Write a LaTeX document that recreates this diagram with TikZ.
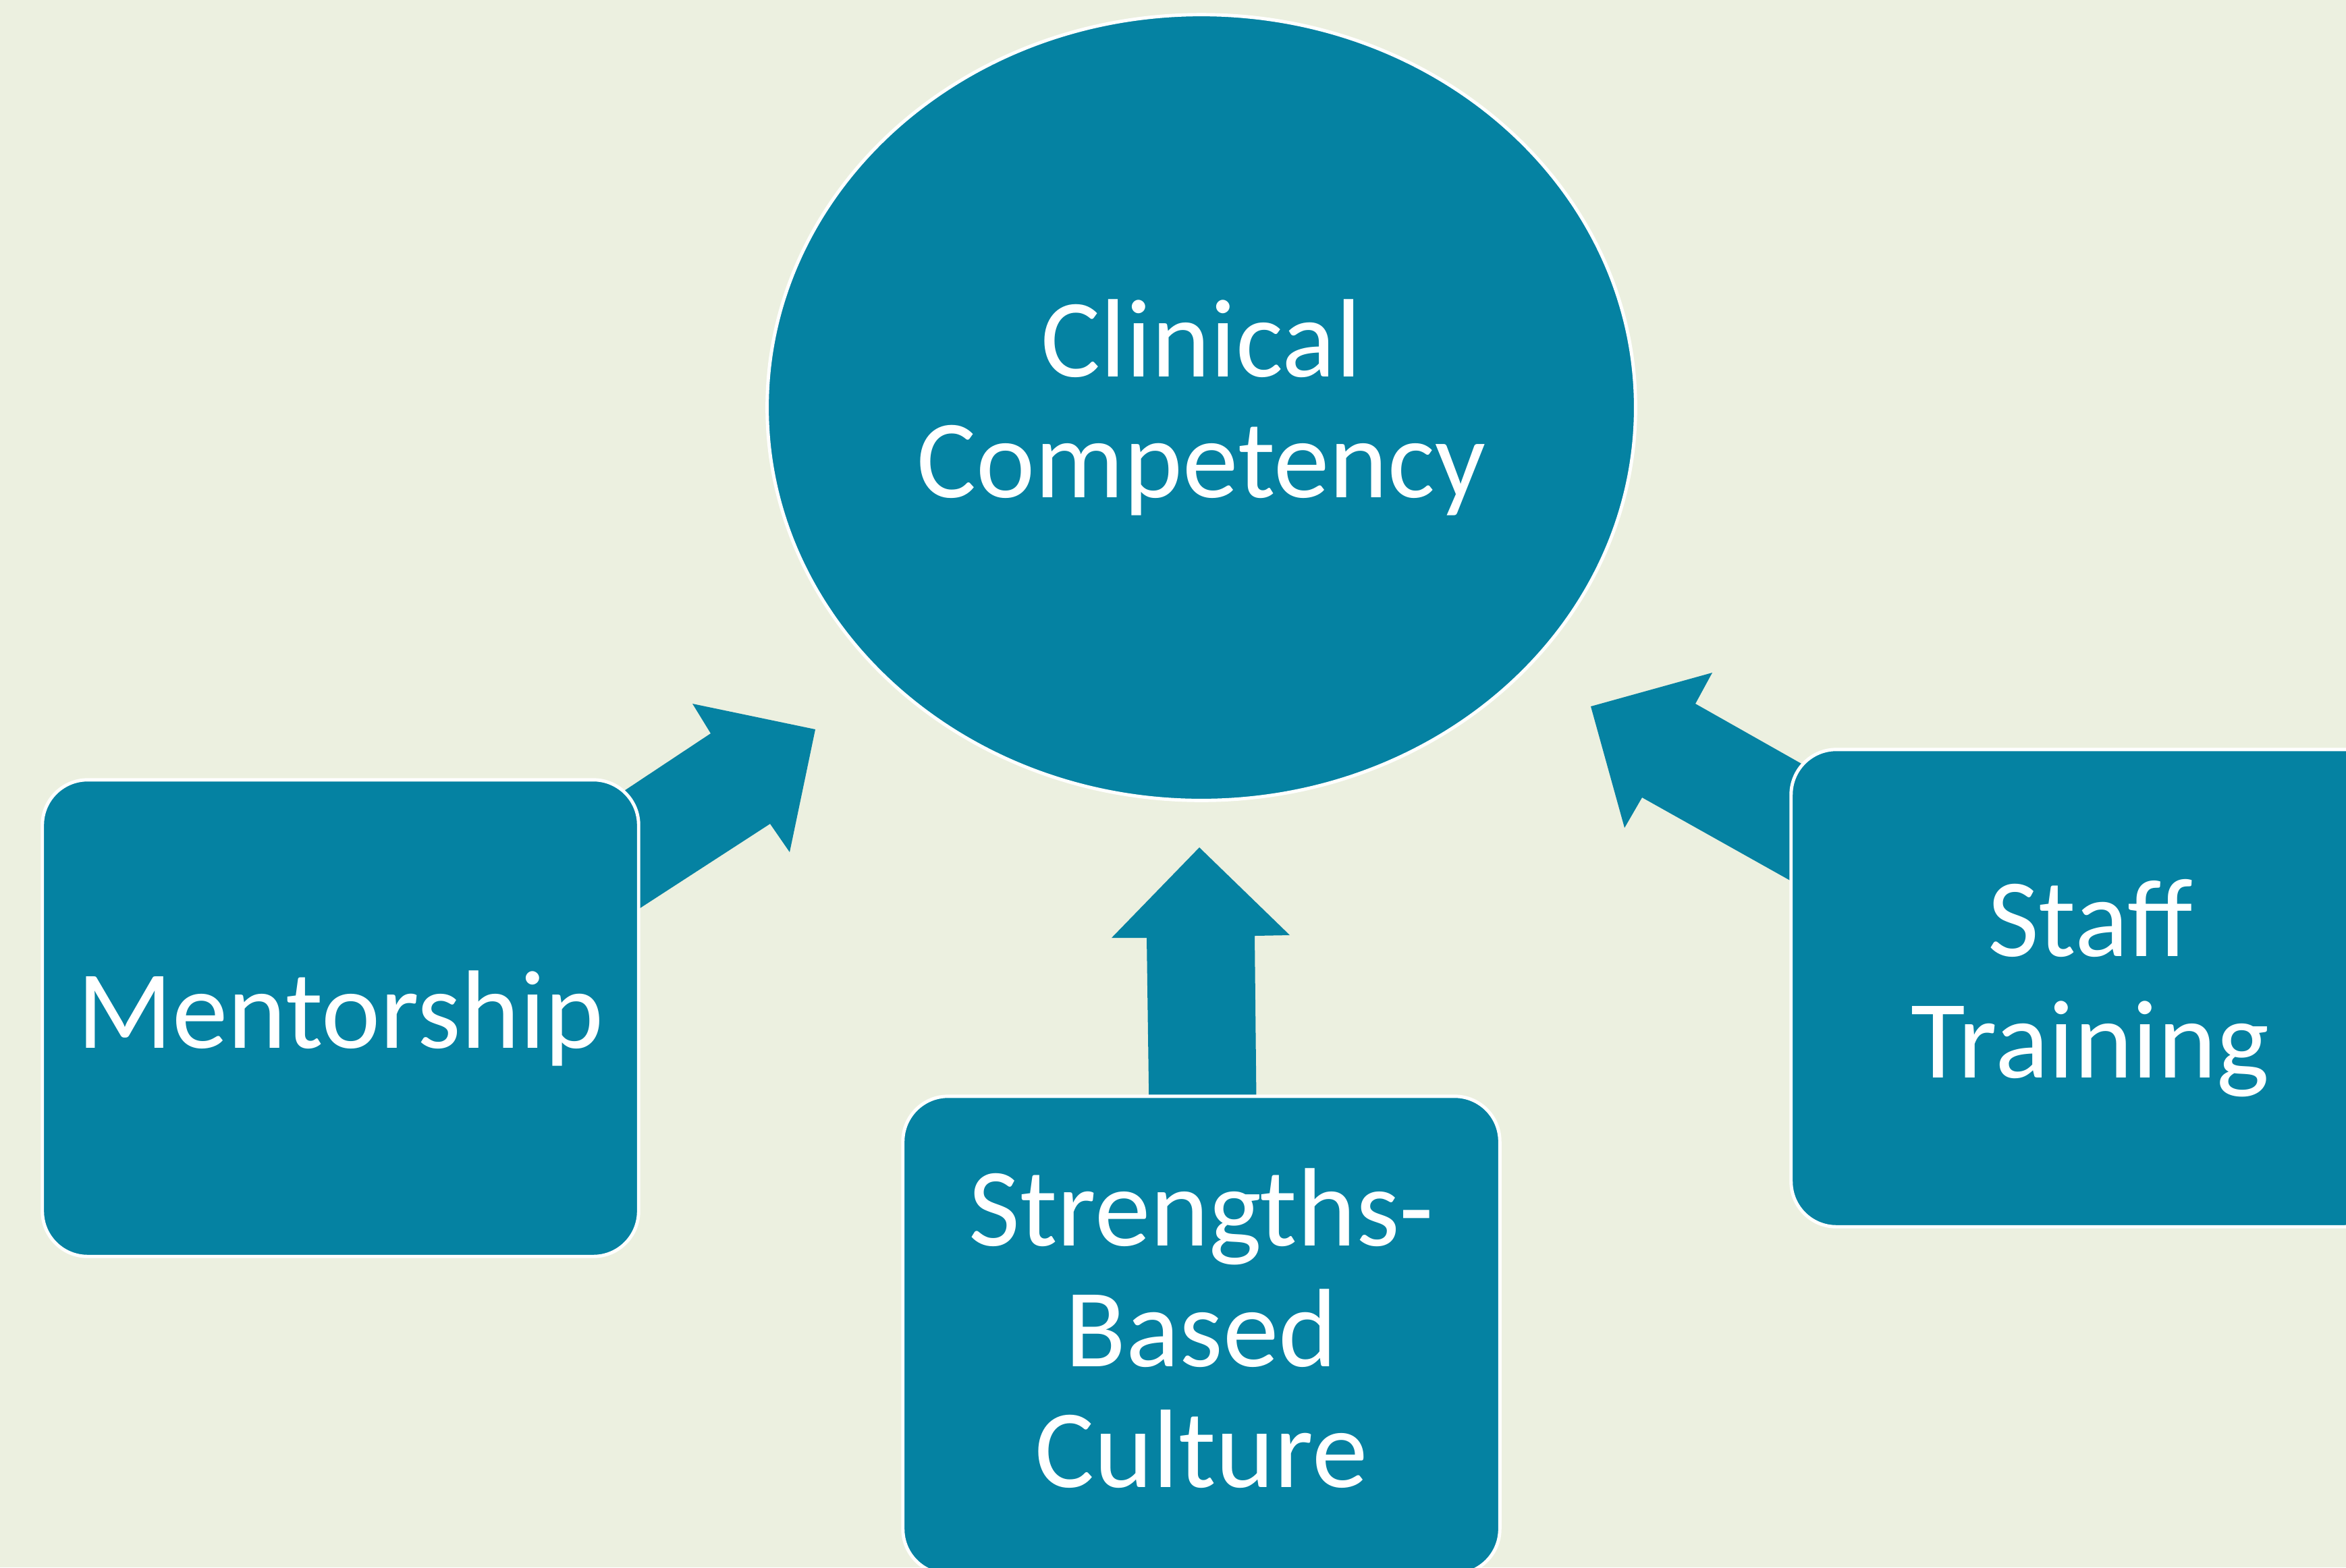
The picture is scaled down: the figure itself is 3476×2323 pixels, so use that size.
\documentclass[tikz,border=0pt]{standalone}
\usepackage{fontspec}
\setmainfont{Carlito}
\usetikzlibrary{shapes.geometric}
\definecolor{paper}{HTML}{ECF0E0}
\definecolor{tealfill}{HTML}{0582A2}
\begin{document}
\begin{tikzpicture}[x=0.01cm,y=-0.01cm,
  outline/.style={draw=white,line width=1.4pt},
  label text/.style={text=white,font=\fontsize{47}{51}\selectfont,align=center},
  panel/.style={outline,fill=tealfill,rounded corners=0.67cm,inner sep=0pt,label text},
  blockarrow/.style={fill=tealfill}]
% page background
\fill[paper] (0,0) rectangle (3476,2323);
\useasboundingbox (0,0) rectangle (3476,2323);
\clip (0,0) rectangle (3476,2323);

% block arrows (drawn first, their tails hide behind the boxes)
\coordinate (mentor tip) at (1208,1081);
\coordinate (culture tip) at (1777,1256);
\coordinate (training tip) at (2357,1047);
\fill[blockarrow] (842,1227) -- (1053,1087) -- (1026,1043) -- (mentor tip)
  -- (1170,1263) -- (1141,1221) -- (865,1400) -- cycle;
\fill[blockarrow] (1703,1680) -- (1699,1390) -- (1647,1390) -- (culture tip)
  -- (1911,1386) -- (1859,1387) -- (1862,1680) -- cycle;
\fill[blockarrow] (2756,1181) -- (2512,1043) -- (2537,997) -- (training tip)
  -- (2407,1227) -- (2433,1182) -- (2738,1353) -- cycle;

% central goal
\node[ellipse,outline,fill=tealfill,minimum width=12.86cm,minimum height=11.64cm,
  inner sep=0pt,label text] (goal) at (1780,604) {Clinical\\Competency};

% contributing factors
\node[panel,minimum width=8.83cm,minimum height=7.06cm] (mentor) at (504.5,1509) {Mentorship};
\node[panel,minimum width=8.84cm,minimum height=7.08cm,text depth=0.22cm] (culture) at (1780,1979) {Strengths-\\Based\\Culture};
\node[panel,minimum width=8.86cm,minimum height=7.07cm] (training) at (3097,1464.5) {Staff\\Training};
\end{tikzpicture}
\end{document}
